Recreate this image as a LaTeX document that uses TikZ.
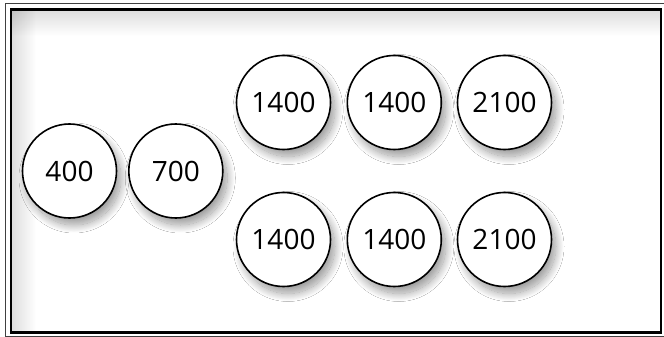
\documentclass[tikz,border=0pt]{standalone}
\usepackage{fontspec}
\setmainfont{Open Sans}
\usetikzlibrary{shadows.blur,fadings}
\begin{document}
\begin{tikzpicture}[x=1pt,y=-1pt,
  coin/.style={circle, draw=black, line width=1.6pt, fill=white,
    minimum size=94pt, inner sep=0pt, font=\fontsize{28}{30}\selectfont,
    blur shadow={shadow xshift=4.5pt, shadow yshift=-7pt,
      shadow blur radius=8pt, shadow blur steps=20, shadow opacity=40}},
  outerframe/.style={draw=black!75, line width=1.5pt},
  innerframe/.style={draw=black, line width=2.4pt}]
\useasboundingbox (0,0) rectangle (664,337);
\fill[white] (0,0) rectangle (664,337);
% inner glow at top and left
\fill[black, fill opacity=0.13, path fading=east] (12,10.5) rectangle (36,331);
\fill[black, fill opacity=0.13, path fading=south] (12,10.5) rectangle (661,36);
% frame
\draw[outerframe] (5.5,3.5) rectangle (668,337.2);
\draw[innerframe] (11,9.5) rectangle (661,332.3);
% coins
\node[coin] (c400) at (69.5,171) {400};
\node[coin] (c700) at (175.8,171) {700};
\node[coin] (t1) at (283.5,102.5) {1400};
\node[coin] (t2) at (394.3,102.5) {1400};
\node[coin] (t3) at (504.5,102.5) {2100};
\node[coin] (b1) at (283.5,239.5) {1400};
\node[coin] (b2) at (394.3,239.5) {1400};
\node[coin] (b3) at (504.5,239.5) {2100};
\end{tikzpicture}
\end{document}
